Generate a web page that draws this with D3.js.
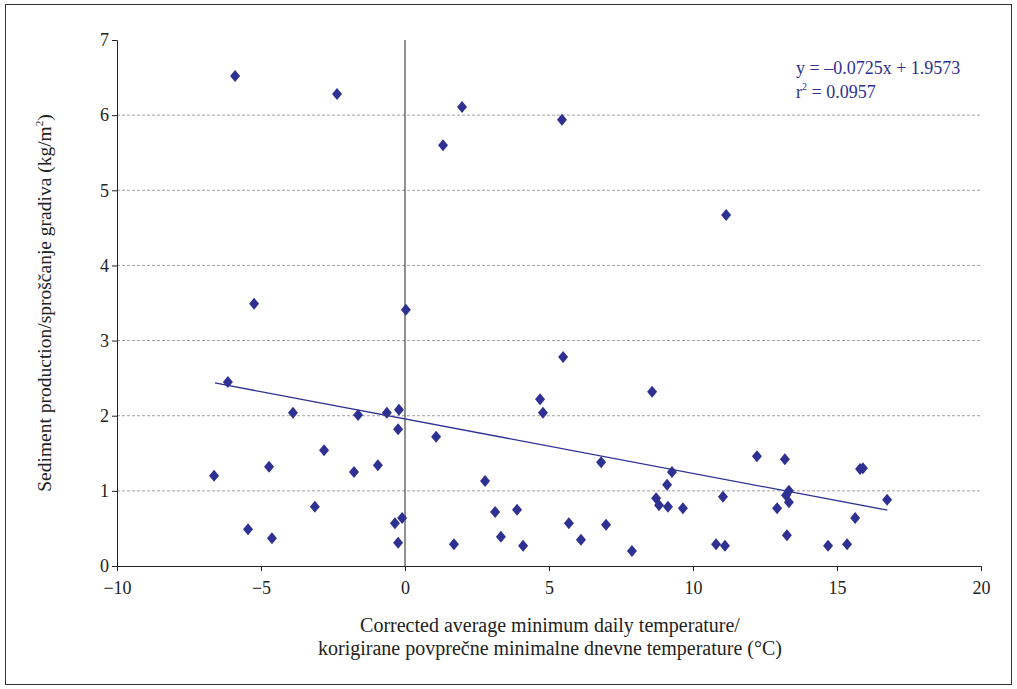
<!DOCTYPE html>
<html><head><meta charset="utf-8">
<script src="https://cdn.jsdelivr.net/npm/d3@7"></script>
<style>body{margin:0;background:#fff}svg{display:block;font-family:"Liberation Serif",serif}</style>
</head><body><svg></svg>
<script>
var xs = [-6.63,-5.9,-6.15,-5.24,-5.45,-4.72,-4.62,-3.89,-3.13,-2.81,-2.36,-1.63,-1.77,-0.94,-0.63,-0.21,-0.24,-0.35,-0.24,-0.10,0.03,1.08,1.32,1.70,1.98,2.78,3.13,3.33,3.89,4.10,4.69,4.79,5.45,5.49,5.69,6.11,6.81,6.98,7.88,8.58,8.72,8.82,9.13,9.10,9.27,9.65,10.80,11.04,11.11,11.15,12.22,12.92,13.19,13.23,13.33,13.33,13.26,14.69,15.35,15.63,15.80,15.9,16.74];
var ys = [1.20,6.52,2.45,3.49,0.49,1.32,0.37,2.04,0.79,1.54,6.28,2.01,1.25,1.34,2.04,2.08,1.82,0.57,0.31,0.64,3.41,1.72,5.60,0.29,6.11,1.13,0.72,0.39,0.75,0.27,2.22,2.04,5.94,2.78,0.57,0.35,1.38,0.55,0.20,2.32,0.90,0.81,0.79,1.08,1.25,0.77,0.29,0.92,0.27,4.67,1.46,0.77,1.42,0.94,1.00,0.85,0.41,0.27,0.29,0.64,1.29,1.30,0.88];
var xTicks = [-10,-5,0,5,10,15,20];
var yTicks = [0,1,2,3,4,5,6,7];
var slope = -0.0725, intercept = 1.9573;
var trendRange = [-6.6, 16.75];

var svg = d3.select("svg").attr("width",1017).attr("height",689);
var col = "#2e3192";
svg.append("rect").attr("x",5.5).attr("y",4.5).attr("width",1006).attr("height",680).attr("fill","none").attr("stroke","#333");
var x = d3.scaleLinear().domain([-10,20]).range([117,981]);
var y = d3.scaleLinear().domain([0,7]).range([566,40]);

svg.selectAll(".g").data(yTicks.filter(function(t){return t>0 && t<7;})).enter().append("line")
  .attr("x1",117).attr("x2",981).attr("y1",function(d){return y(d);}).attr("y2",function(d){return y(d);})
  .attr("stroke","#888").attr("stroke-dasharray","3,2").attr("stroke-width",0.8);

var gx = svg.append("g").attr("transform","translate(0,566)")
  .call(d3.axisBottom(x).tickValues(xTicks).tickSize(5).tickFormat(function(d){return d<0?"\u2212"+(-d):d;}));
var gy = svg.append("g").attr("transform","translate(117,0)")
  .call(d3.axisLeft(y).tickValues(yTicks).tickSize(5).tickFormat(d3.format("d")));
[gx,gy].forEach(function(g){g.selectAll("text").attr("font-size",18).attr("font-family","Liberation Serif").attr("fill","#222");g.selectAll("path,line").attr("stroke","#222");});
gx.selectAll("text").attr("dy","1.1em");
svg.append("line").attr("x1",x(0)).attr("x2",x(0)).attr("y1",40).attr("y2",566).attr("stroke","#222");

svg.append("line").attr("x1",x(trendRange[0])).attr("y1",y(slope*trendRange[0]+intercept))
  .attr("x2",x(trendRange[1])).attr("y2",y(slope*trendRange[1]+intercept)).attr("stroke",col).attr("stroke-width",1.3);

svg.selectAll(".p").data(xs).enter().append("path")
  .attr("d","M0,-6L5,0L0,6L-5,0Z")
  .attr("transform",function(d,i){return "translate("+x(d)+","+y(ys[i])+")";})
  .attr("fill",col);

var eq = svg.append("text").attr("x",796).attr("y",74).attr("fill",col).attr("font-size",18);
eq.text("y = \u20130.0725x + 1.9573");
var r2 = svg.append("text").attr("x",796).attr("y",98).attr("fill",col).attr("font-size",18);
r2.append("tspan").text("r");
r2.append("tspan").attr("font-size",10).attr("dy",-8).text("2");
r2.append("tspan").attr("dy",8).text(" = 0.0957");

svg.append("text").attr("x",550).attr("y",632).attr("text-anchor","middle").attr("font-size",20).attr("fill","#222").text("Corrected average minimum daily temperature/");
svg.append("text").attr("x",550).attr("y",655).attr("text-anchor","middle").attr("font-size",20).attr("fill","#222").text("korigirane povpre\u010dne minimalne dnevne temperature (\u00b0C)");
var yl = svg.append("text").attr("transform","translate(51,303) rotate(-90)").attr("text-anchor","middle").attr("font-size",19.5).attr("fill","#222");
yl.append("tspan").text("Sediment production/spro\u0161\u010danje gradiva (kg/m");
yl.append("tspan").attr("font-size",11).attr("dy",-8).text("2");
yl.append("tspan").attr("dy",8).text(")");
</script></body></html>
